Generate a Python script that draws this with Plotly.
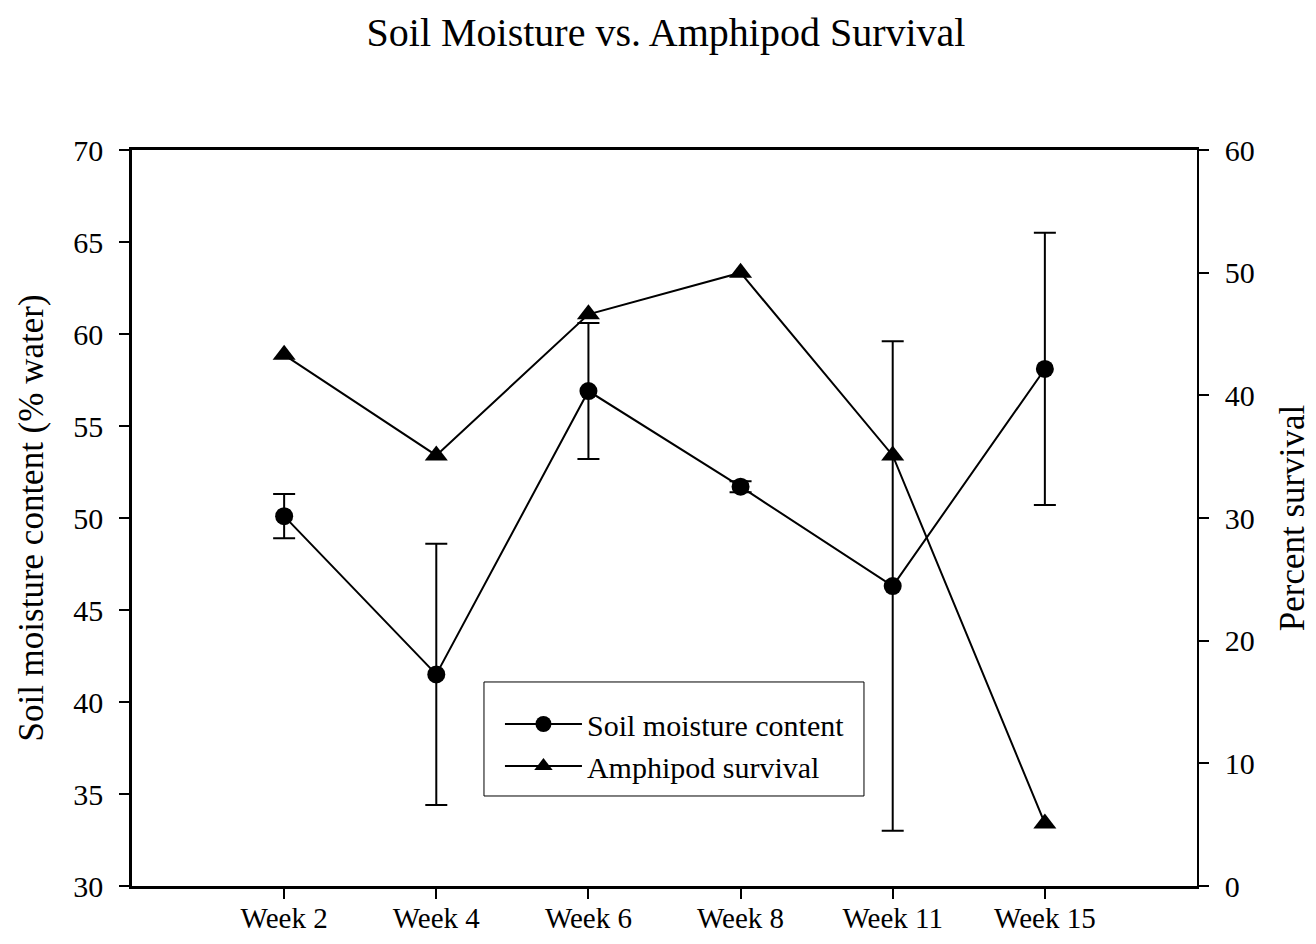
import plotly.graph_objects as go

weeks = ["Week 2", "Week 4", "Week 6", "Week 8", "Week 11", "Week 15"]
moisture = [50.1, 41.5, 56.9, 51.7, 46.3, 58.1]
moisture_err = [1.2, 7.1, 3.7, 0.3, 13.3, 7.4]
survival = [43.3, 35.1, 46.6, 50.0, 35.1, 5.1]

left_ticks = [30, 35, 40, 45, 50, 55, 60, 65, 70]
right_ticks = [0, 10, 20, 30, 40, 50, 60]

FONT = "Liberation Serif, Times New Roman, serif"

fig = go.Figure()
fig.add_trace(go.Scatter(
    x=weeks, y=moisture, name="Soil moisture content",
    mode="lines+markers",
    line=dict(color="black", width=2),
    marker=dict(symbol="circle", size=18, color="black"),
    error_y=dict(type="data", array=moisture_err, visible=True,
                 color="black", thickness=2, width=11),
    yaxis="y",
))
fig.add_trace(go.Scatter(
    x=weeks, y=survival, name="Amphipod survival",
    mode="lines+markers",
    line=dict(color="black", width=2),
    marker=dict(symbol="triangle-up", size=20, color="black"),
    yaxis="y2",
))

fig.update_layout(
    width=1316, height=944,
    paper_bgcolor="white", plot_bgcolor="white",
    margin=dict(l=124, r=127, t=142, b=66),
    font=dict(family=FONT, color="black", size=29),
    title=dict(text="Soil Moisture vs. Amphipod Survival", x=0.5, xanchor="center",
               y=0.9745, yanchor="middle", font=dict(size=40, family=FONT, color="black")),
    xaxis=dict(
        type="category", range=[-1, 6],
        showline=True, linecolor="black", linewidth=2.5, mirror=True,
        ticks="outside", ticklen=10, tickwidth=2, tickcolor="black",
        showgrid=False, zeroline=False,
        tickfont=dict(size=29, family=FONT),
        ticklabelstandoff=-6,
    ),
    yaxis=dict(
        range=[30, 70], tickvals=left_ticks,
        showline=True, linecolor="black", linewidth=2.5,
        ticks="outside", ticklen=10, tickwidth=2, tickcolor="black",
        showgrid=False, zeroline=False,
        tickfont=dict(size=30, family=FONT),
        ticklabelstandoff=10,
        title=dict(text="Soil moisture content (% water)", font=dict(size=35, family=FONT), standoff=20),
    ),
    yaxis2=dict(
        range=[0, 60], tickvals=right_ticks, overlaying="y", side="right",
        showline=True, linecolor="black", linewidth=1.5,
        ticks="outside", ticklen=10, tickwidth=1.5, tickcolor="black",
        showgrid=False, zeroline=False,
        tickfont=dict(size=30, family=FONT),
        ticklabelstandoff=10,
        title=dict(text="Percent survival", font=dict(size=35, family=FONT), standoff=26),
    ),
    legend=dict(
        x=0.3455, y=0.2554, xanchor="left", yanchor="top",
        borderwidth=0, bgcolor="rgba(0,0,0,0)",
        font=dict(size=30, family=FONT),
        itemwidth=77, tracegroupgap=0,
    ),
    shapes=[dict(type="rect", xref="paper", yref="paper",
                 x0=0.3305, x1=0.6873, y0=0.1223, y1=0.2772,
                 line=dict(color="black", width=1), fillcolor="rgba(0,0,0,0)", layer="above")],
    showlegend=True,
)

fig.write_html("out.html")
